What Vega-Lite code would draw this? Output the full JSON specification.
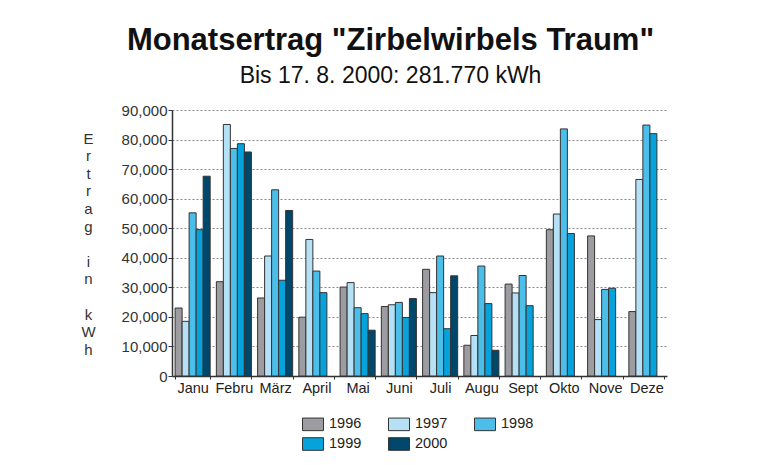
{
  "$schema": "https://vega.github.io/schema/vega-lite/v6.json",
  "width": 495,
  "height": 266,
  "autosize": {"type": "none"},
  "padding": {"left": 172, "top": 110, "right": 93, "bottom": 89},
  "background": "white",
  "title": {
    "text": "Monatsertrag \"Zirbelwirbels Traum\"",
    "subtitle": "Bis 17. 8. 2000: 281.770 kWh",
    "anchor": "middle",
    "dx": -29,
    "font": "Liberation Sans",
    "fontSize": 31,
    "fontWeight": "bold",
    "color": "#111",
    "subtitleFont": "Liberation Sans",
    "subtitleFontSize": 23,
    "subtitleColor": "#111",
    "subtitlePadding": 8,
    "offset": 14
  },
  "data": {
    "values": [
      {"m": "Janu", "yr": "1996", "v": 23000},
      {"m": "Janu", "yr": "1997", "v": 18500},
      {"m": "Janu", "yr": "1998", "v": 55200},
      {"m": "Janu", "yr": "1999", "v": 49500},
      {"m": "Janu", "yr": "2000", "v": 67600},
      {"m": "Febru", "yr": "1996", "v": 31900},
      {"m": "Febru", "yr": "1997", "v": 85100},
      {"m": "Febru", "yr": "1998", "v": 77000},
      {"m": "Febru", "yr": "1999", "v": 78600},
      {"m": "Febru", "yr": "2000", "v": 75800},
      {"m": "März", "yr": "1996", "v": 26400},
      {"m": "März", "yr": "1997", "v": 40600},
      {"m": "März", "yr": "1998", "v": 63000},
      {"m": "März", "yr": "1999", "v": 32400},
      {"m": "März", "yr": "2000", "v": 56000},
      {"m": "April", "yr": "1996", "v": 19900},
      {"m": "April", "yr": "1997", "v": 46200},
      {"m": "April", "yr": "1998", "v": 35500},
      {"m": "April", "yr": "1999", "v": 28200},
      {"m": "Mai", "yr": "1996", "v": 30100},
      {"m": "Mai", "yr": "1997", "v": 31600},
      {"m": "Mai", "yr": "1998", "v": 23100},
      {"m": "Mai", "yr": "1999", "v": 21100},
      {"m": "Mai", "yr": "2000", "v": 15500},
      {"m": "Juni", "yr": "1996", "v": 23500},
      {"m": "Juni", "yr": "1997", "v": 24100},
      {"m": "Juni", "yr": "1998", "v": 24900},
      {"m": "Juni", "yr": "1999", "v": 19800},
      {"m": "Juni", "yr": "2000", "v": 26200},
      {"m": "Juli", "yr": "1996", "v": 36100},
      {"m": "Juli", "yr": "1997", "v": 28200},
      {"m": "Juli", "yr": "1998", "v": 40600},
      {"m": "Juli", "yr": "1999", "v": 16000},
      {"m": "Juli", "yr": "2000", "v": 33900},
      {"m": "Augu", "yr": "1996", "v": 10400},
      {"m": "Augu", "yr": "1997", "v": 13700},
      {"m": "Augu", "yr": "1998", "v": 37200},
      {"m": "Augu", "yr": "1999", "v": 24500},
      {"m": "Augu", "yr": "2000", "v": 8700},
      {"m": "Sept", "yr": "1996", "v": 31100},
      {"m": "Sept", "yr": "1997", "v": 28100},
      {"m": "Sept", "yr": "1998", "v": 34000},
      {"m": "Sept", "yr": "1999", "v": 23800},
      {"m": "Okto", "yr": "1996", "v": 49500},
      {"m": "Okto", "yr": "1997", "v": 54800},
      {"m": "Okto", "yr": "1998", "v": 83600},
      {"m": "Okto", "yr": "1999", "v": 48200},
      {"m": "Nove", "yr": "1996", "v": 47400},
      {"m": "Nove", "yr": "1997", "v": 19100},
      {"m": "Nove", "yr": "1998", "v": 29300},
      {"m": "Nove", "yr": "1999", "v": 29700},
      {"m": "Deze", "yr": "1996", "v": 21800},
      {"m": "Deze", "yr": "1997", "v": 66500},
      {"m": "Deze", "yr": "1998", "v": 84900},
      {"m": "Deze", "yr": "1999", "v": 82000}
    ]
  },
  "mark": {"type": "bar", "stroke": "#333", "strokeWidth": 1},
  "encoding": {
    "x": {
      "field": "m",
      "type": "nominal",
      "sort": ["Janu", "Febru", "März", "April", "Mai", "Juni", "Juli", "Augu", "Sept", "Okto", "Nove", "Deze"],
      "scale": {"paddingInner": 0.15, "paddingOuter": 0.075},
      "axis": {
        "title": null,
        "labelAngle": 0,
        "tickBand": "extent",
        "tickSize": 3,
        "domainColor": "#333",
        "tickColor": "#333",
        "labelFont": "Liberation Sans",
        "labelFontSize": 14.5,
        "labelColor": "#222",
        "labelPadding": 2
      }
    },
    "xOffset": {
      "field": "yr",
      "type": "nominal",
      "scale": {"domain": ["1996", "1997", "1998", "1999", "2000"], "paddingInner": 0}
    },
    "y": {
      "field": "v",
      "type": "quantitative",
      "scale": {"domain": [0, 90000]},
      "axis": {
        "values": [0, 10000, 20000, 30000, 40000, 50000, 60000, 70000, 80000, 90000],
        "format": ",.0f",
        "title": ["E", "r", "t", "r", "a", "g", "\u2800", "i", "n", "\u2800", "k", "W", "h"],
        "titleAngle": 0,
        "titleAlign": "center",
        "titleBaseline": "middle",
        "titleLineHeight": 17.6,
        "titleFontSize": 15,
        "titleFontWeight": "normal",
        "titleFont": "Liberation Sans",
        "titleColor": "#333",
        "titleX": -84,
        "titleY": 28,
        "gridDash": [2, 2],
        "gridColor": "#888",
        "domainColor": "#333",
        "tickColor": "#333",
        "tickSize": 4,
        "labelFontSize": 15,
        "labelFont": "Liberation Sans",
        "labelColor": "#333",
        "labelPadding": 1
      }
    },
    "color": {
      "field": "yr",
      "type": "nominal",
      "scale": {
        "domain": ["1996", "1997", "1998", "1999", "2000"],
        "range": ["#9d9da1", "#b5e0f5", "#4bbfea", "#06a2dc", "#00486b"]
      },
      "legend": {
        "orient": "none",
        "legendX": 130,
        "legendY": 303,
        "direction": "horizontal",
        "columns": 3,
        "title": null,
        "symbolType": "M-1,-0.6H1V0.6H-1Z",
        "symbolSize": 441,
        "symbolStrokeColor": "#333",
        "symbolStrokeWidth": 1,
        "symbolOpacity": 1,
        "labelFont": "Liberation Sans",
        "labelFontSize": 14.5,
        "labelColor": "#222",
        "labelOffset": 5,
        "columnPadding": 24,
        "rowPadding": 0
      }
    }
  },
  "config": {"view": {"stroke": null}, "axis": {"domainWidth": 1.5}}
}
